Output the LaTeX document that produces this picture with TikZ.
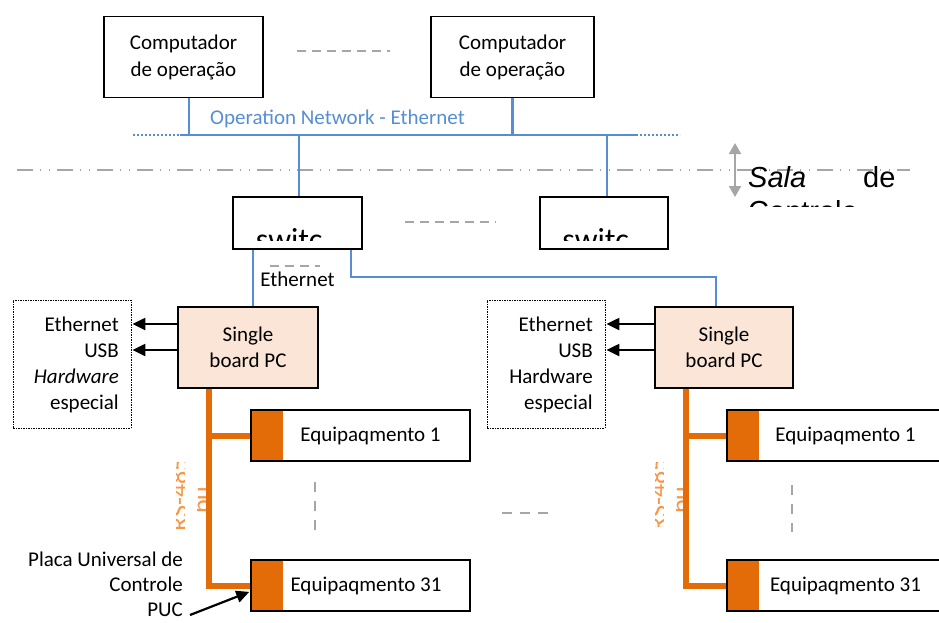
\documentclass[tikz,border=0pt]{standalone}
\usepackage{fontspec}
\setmainfont{Carlito}
\newfontfamily\arialf{Liberation Sans}
\usetikzlibrary{arrows.meta}
\definecolor{netblue}{HTML}{558ED5}
\definecolor{busorange}{HTML}{E36C09}
\definecolor{lightorange}{HTML}{F79646}
\definecolor{peach}{HTML}{FBE5D6}
\definecolor{dgray}{HTML}{A6A6A6}
\begin{document}
\begin{tikzpicture}[x=1pt,y=-1pt,
  font=\fontsize{21}{26}\selectfont,
  box/.style={draw, line width=1.6pt, inner sep=0pt, align=center},
  sbcbox/.style={box, fill=peach, minimum height=81pt},
  dbox/.style={draw, line width=0.8pt, dash pattern=on 2pt off 1pt on 1pt off 1pt, inner sep=0pt},
  eqbox/.style={draw, line width=1.6pt, minimum width=219pt, minimum height=51pt, inner sep=0pt,
    path picture={\fill[busorange] (path picture bounding box.north west) rectangle ([xshift=32pt]path picture bounding box.south west);}},
  net/.style={draw=netblue, line width=2.4pt},
  netdot/.style={draw=netblue, line width=2.4pt, dash pattern=on 2pt off 2pt},
  bus/.style={draw=busorange, line width=6pt},
  gdash/.style={draw=dgray, line width=2pt, dash pattern=on 9pt off 6pt},
  gvdash/.style={draw=dgray, line width=2pt, dash pattern=on 10pt off 9pt},
  arr/.style={line width=2.2pt, -{Triangle[length=13pt,width=12pt]}, shorten >=1pt},
  txt/.style={inner sep=0pt, align=right}
]
\useasboundingbox (0,0) rectangle (939,622);

% ---- operation computers and network
\node[box, minimum width=159pt, minimum height=81pt, font=\fontsize{21}{27}\selectfont] (pc1) at (183.5,57) {Computador\\de operação};
\node[box, minimum width=163pt, minimum height=81pt, font=\fontsize{21}{27}\selectfont] (pc2) at (512.5,57) {Computador\\de operação};
\draw[gdash] (297,51) -- (390,51);

\coordinate (nl) at (180,135);
\coordinate (nr) at (636,135);
\coordinate (nld) at (133,135);
\coordinate (nrd) at (680,135);
\draw[net] (nl) -- (nr);
\draw[netdot] (nld) -- (nl);
\draw[netdot] (nr) -- (nrd);
\draw[net] ([xshift=5.5pt]pc1.south) -- ([xshift=5.5pt]pc1.south |- nl);
\draw[net] (pc2.south) -- (pc2.south |- nl);
\node[text=netblue] (onl) at (337.5,119) {Operation Network - Ethernet};

% ---- control room boundary
\draw[draw=dgray, line width=1.5pt, dash pattern=on 16pt off 7pt on 1pt off 8pt on 1pt off 7pt] (17,170) -- (910,170);
\coordinate (da1) at (735,143);
\coordinate (da2) at (735,197);
\draw[draw=dgray, line width=2pt, {Triangle[length=11pt,width=12pt]}-{Triangle[length=11pt,width=12pt]}] (da1) -- (da2);
\begin{scope}
  \clip (742,140) rectangle (939,206);
  \node[font=\arialf\fontsize{29}{33}\selectfont, anchor=base west, inner sep=0pt] (sala) at (748,187) {\textit{Sala}};
  \node[font=\arialf\fontsize{29}{33}\selectfont, anchor=base west, inner sep=0pt] (de) at (863,187) {de};
  \node[font=\arialf\fontsize{29}{33}\selectfont, anchor=base west, inner sep=0pt] (ctrl) at (748,221) {Controle};
\end{scope}

% ---- switches
\node[box, minimum width=129pt, minimum height=52pt] (sw1) at (297.5,223) {};
\node[box, minimum width=128pt, minimum height=52pt] (sw2) at (604,223) {};
\begin{scope}
  \clip (240,226) rectangle (323,240);
  \node[font=\fontsize{32}{38}\selectfont, anchor=base, inner sep=0pt] (sw1t) at (297.5,250) {switch};
\end{scope}
\begin{scope}
  \clip (546,226) rectangle (630,240);
  \node[font=\fontsize{32}{38}\selectfont, anchor=base, inner sep=0pt] (sw2t) at (604,250) {switch};
\end{scope}
\draw[net] ([xshift=1.5pt]sw1.north) -- ([xshift=1.5pt]sw1.north |- nl);
\draw[net] ([xshift=3pt]sw2.north) -- ([xshift=3pt]sw2.north |- nl);
\draw[gdash] (405,222) -- (496,222);
\draw[gdash] (270,266) -- (320,266);

% ---- single board PCs
\node[sbcbox, minimum width=140pt] (sbc1) at (248,347.5) {Single\\board PC};
\node[sbcbox, minimum width=138pt] (sbc2) at (724,347.5) {Single\\board PC};
\node[inner sep=0pt] (eth) at (297.5,279) {Ethernet};
\draw[net] ([xshift=5pt]sbc1.north) -- ([xshift=5pt]sbc1.north |- sw1.south);
\draw[net] ([xshift=53.5pt]sw1.south) -- ++(0,27) -| ([xshift=-8pt]sbc2.north);

% ---- interface boxes
\node[dbox, minimum width=118pt, minimum height=128pt] (db1) at (72,364) {};
\node[txt, anchor=east] (db1t) at (119,365) {Ethernet\\USB\\\textit{Hardware}\\especial};
\node[dbox, minimum width=118pt, minimum height=128pt] (db2) at (546,364) {};
\node[txt, anchor=east] (db2t) at (593,365) {Ethernet\\USB\\Hardware\\especial};
\draw[arr] ([yshift=23.5pt]sbc1.west) -- ([yshift=23.5pt]sbc1.west -| db1.east);
\draw[arr] ([yshift=-2.5pt]sbc1.west) -- ([yshift=-2.5pt]sbc1.west -| db1.east);
\draw[arr] ([yshift=23.5pt]sbc2.west) -- ([yshift=23.5pt]sbc2.west -| db2.east);
\draw[arr] ([yshift=-2.5pt]sbc2.west) -- ([yshift=-2.5pt]sbc2.west -| db2.east);

% ---- equipment
\node[eqbox] (eq1a) at (360.5,435.5) {\hspace*{20pt}Equipaqmento 1};
\node[eqbox] (eq31a) at (360.5,585.5) {\hspace*{11pt}Equipaqmento 31};
\node[eqbox] (eq1b) at (836.5,435.5) {\hspace*{18pt}Equipaqmento 1};
\node[eqbox] (eq31b) at (836.5,585.5) {\hspace*{18pt}Equipaqmento 31};

% ---- rotated bus labels (clipped)
\begin{scope}
  \clip (176,462) rectangle (184,528) (197,488) rectangle (207,524);
  \node[rotate=90, text=lightorange, inner sep=0pt, align=center, font=\fontsize{26}{23}\selectfont] (rs1) at (190,495) {RS-485\\bus};
\end{scope}
\begin{scope}
  \clip (655,462) rectangle (663,526) (676,488) rectangle (684,522);
  \node[rotate=90, text=lightorange, inner sep=0pt, align=center, font=\fontsize{26}{23}\selectfont] (rs2) at (669,495) {RS-485\\bus};
\end{scope}

% ---- orange buses
\coordinate (b1top) at ([xshift=-39pt]sbc1.south);
\coordinate (b2top) at ([xshift=-38pt]sbc2.south);
\draw[bus] (b1top) |- (eq31a.west);
\draw[bus] (b1top |- eq1a.west) -- (eq1a.west);
\draw[bus] (b2top) |- (eq31b.west);
\draw[bus] (b2top |- eq1b.west) -- (eq1b.west);

% ---- continuation dashes
\draw[gvdash] (315,482) -- (315,530);
\draw[gvdash] (792,485) -- (792,532);
\draw[draw=dgray, line width=2pt, dash pattern=on 10pt off 8pt] (502,513) -- (551,513);

% ---- PUC annotation
\node[txt, anchor=east, font=\fontsize{21}{25}\selectfont] (puct) at (183,584) {Placa Universal de\\Controle\\PUC};
\coordinate (pucs) at (190,615);
\draw[arr] (pucs) -- ([yshift=-6pt]eq31a.west);

\end{tikzpicture}
\end{document}
